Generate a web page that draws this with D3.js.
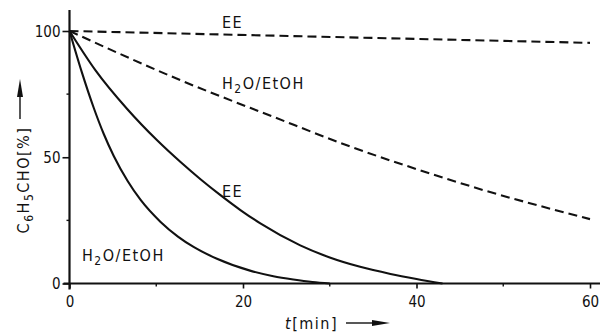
<!DOCTYPE html>
<html>
<head>
<meta charset="utf-8">
<script src="https://cdn.jsdelivr.net/npm/d3@7"></script>
<style>
  body { margin: 0; background: #fff; }
  svg { display: block; }
  text { font-family: "DejaVu Sans Condensed", "Liberation Sans Narrow", sans-serif; fill: #111; }
  .tick text { font-size: 15px; }
  .lbl { font-size: 16px; letter-spacing: 1.5px; }
</style>
</head>
<body>
<svg id="chart" width="602" height="332"></svg>
<script>
// time [min] and remaining C6H5CHO [%]
const eeSolidT = [0, 3, 6.65, 10.1, 12.8, 15.1, 17.4, 19.7, 22, 26.6, 30, 33.5, 37, 40, 43];
const eeSolidV = [100, 84.4, 69.1, 56.7, 48.1, 41.3, 35, 29.1, 23.8, 15.1, 10.3, 6.6, 3.8, 1.8, 0];

const waterSolidT = [0, 1.4, 2.8, 3.95, 5.1, 6.7, 8.2, 10.5, 12.5, 14.3, 17, 20.9, 23.5, 25.8, 28, 30];
const waterSolidV = [100, 83.9, 69.5, 59.2, 50.5, 40.6, 33.1, 24.4, 18.6, 14.5, 9.8, 5.0, 2.9, 1.6, 0.6, 0];

const eeDashT = [0, 60];
const eeDashV = [100, 95.3];

const waterDashT = [0, 12.8, 23.5, 32.4, 40, 47.7, 55, 60];
const waterDashV = [100, 80.5, 66, 54.2, 45.3, 37, 30, 25.5];

const xTicks = [0, 20, 40, 60];
const xMinor = [10, 30, 50];
const yTicks = [0, 50, 100];
const yMinor = [25, 75];

const svg = d3.select('#chart');
const x = d3.scaleLinear().domain([0, 60]).range([69.5, 590]);
const y = d3.scaleLinear().domain([0, 100]).range([283.5, 31]);

const zip = (ts, vs) => ts.map((t, i) => ({t, v: vs[i]}));
const line = d3.line().x(d => x(d.t)).y(d => y(d.v)).curve(d3.curveMonotoneX);

// axes
const xAxis = svg.append('g')
    .attr('transform', `translate(0,${y(0)})`)
    .call(d3.axisBottom(x).tickValues(xTicks).tickSize(5).tickPadding(8).tickFormat(d3.format('d')));
xAxis.select('.domain').remove();
xAxis.selectAll('line').attr('stroke', '#111').attr('stroke-width', 1.6);

const yAxis = svg.append('g')
    .attr('transform', `translate(${x(0)},0)`)
    .call(d3.axisLeft(y).tickValues(yTicks).tickSize(7).tickPadding(2).tickFormat(d3.format('d')));
yAxis.select('.domain').remove();
yAxis.selectAll('line').attr('stroke', '#111').attr('stroke-width', 1.6);
yAxis.selectAll('text').attr('dy', '0.36em');

svg.append('g').selectAll('line').data(xMinor).join('line')
    .attr('x1', d => x(d)).attr('x2', d => x(d))
    .attr('y1', y(0)).attr('y2', y(0) + 3)
    .attr('stroke', '#111').attr('stroke-width', 1.4);
svg.append('g').selectAll('line').data(yMinor).join('line')
    .attr('x1', x(0) - 3).attr('x2', x(0))
    .attr('y1', d => y(d)).attr('y2', d => y(d))
    .attr('stroke', '#111').attr('stroke-width', 1.4);

svg.append('line')
    .attr('x1', x(0)).attr('x2', x(0)).attr('y1', 10).attr('y2', y(0) + 6)
    .attr('stroke', '#111').attr('stroke-width', 2.2);
svg.append('line')
    .attr('x1', x(0) - 6).attr('x2', 600).attr('y1', y(0)).attr('y2', y(0))
    .attr('stroke', '#111').attr('stroke-width', 2.2);

// curves
const curves = [
    {data: zip(eeDashT, eeDashV), dash: '9,5'},
    {data: zip(waterDashT, waterDashV), dash: '9,5'},
    {data: zip(eeSolidT, eeSolidV), dash: null},
    {data: zip(waterSolidT, waterSolidV), dash: null}
];
svg.append('g').selectAll('path').data(curves).join('path')
    .attr('d', d => line(d.data))
    .attr('fill', 'none')
    .attr('stroke', '#111')
    .attr('stroke-width', 2.1)
    .attr('stroke-dasharray', d => d.dash);

// curve labels
function waterLabel(px, py) {
    const t = svg.append('text').attr('class', 'lbl').attr('x', px).attr('y', py);
    t.append('tspan').text('H');
    t.append('tspan').attr('font-size', '12px').attr('dy', 4).text('2');
    t.append('tspan').attr('dy', -4).text('O/EtOH');
}
svg.append('text').attr('class', 'lbl').attr('x', 222).attr('y', 28).text('EE');
waterLabel(222, 89);
svg.append('text').attr('class', 'lbl').attr('x', 222).attr('y', 197).text('EE');
waterLabel(82, 261);

// axis titles
const yt = svg.append('text')
    .attr('class', 'lbl')
    .attr('transform', 'translate(29,180) rotate(-90)')
    .attr('text-anchor', 'middle');
yt.append('tspan').text('C');
yt.append('tspan').attr('font-size', '12px').attr('dy', 4).text('6');
yt.append('tspan').attr('dy', -4).text('H');
yt.append('tspan').attr('font-size', '12px').attr('dy', 4).text('5');
yt.append('tspan').attr('dy', -4).text('CHO[%]');

svg.append('line')
    .attr('x1', 20).attr('x2', 20).attr('y1', 119).attr('y2', 92)
    .attr('stroke', '#111').attr('stroke-width', 1.4);
svg.append('path')
    .attr('d', 'M20,79 L17,97 L23,97 Z')
    .attr('fill', '#111');

const xt = svg.append('text').attr('class', 'lbl').attr('x', 285).attr('y', 329);
xt.append('tspan').attr('font-style', 'italic').text('t');
xt.append('tspan').text('[min]');
svg.append('line')
    .attr('x1', 346).attr('x2', 376).attr('y1', 323).attr('y2', 323)
    .attr('stroke', '#111').attr('stroke-width', 1.4);
svg.append('path')
    .attr('d', 'M390,323 L372,320 L372,326 Z')
    .attr('fill', '#111');
</script>
</body>
</html>
